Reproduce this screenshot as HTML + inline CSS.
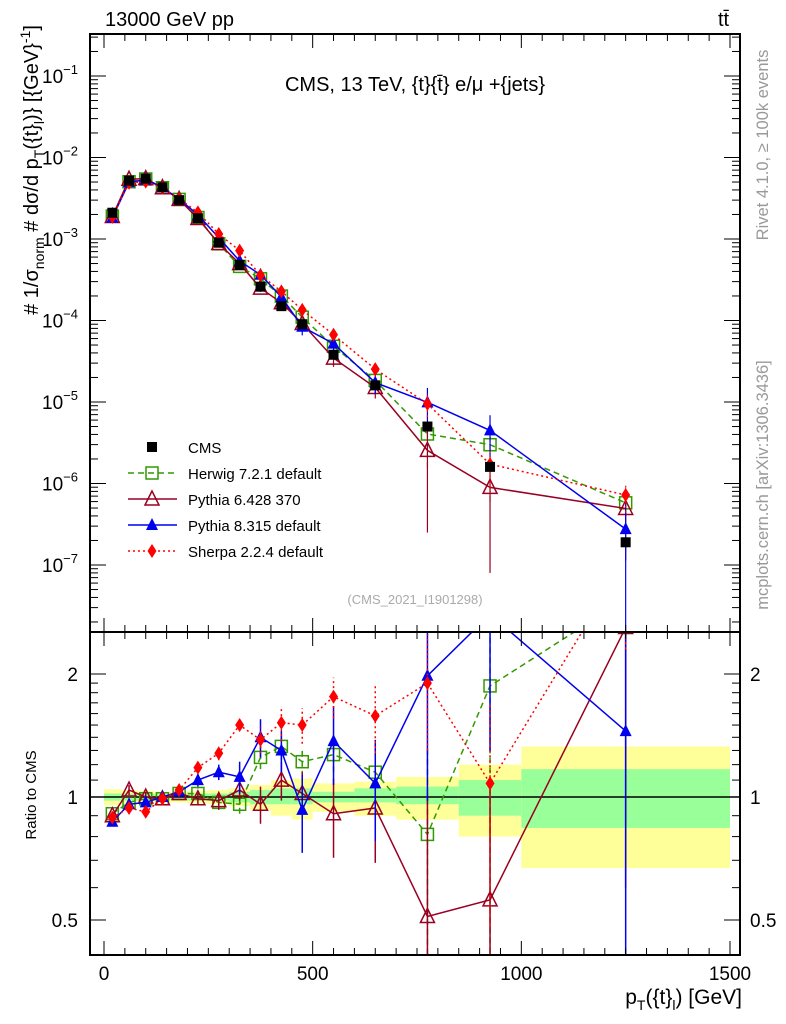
<!DOCTYPE html>
<html><head><meta charset="utf-8">
<style>
html,body{margin:0;padding:0;background:#fff;width:786px;height:1024px;overflow:hidden;position:relative;}
svg{display:block;position:absolute;left:0;top:0;overflow:hidden;font-family:"Liberation Sans",sans-serif;}
</style></head>
<body>
<svg id="chart" width="786" height="1024" viewBox="0 0 786 1024" xmlns="http://www.w3.org/2000/svg">
<g id="bands"></g>
<g id="mainMarks"></g>
<g id="ratioMarks"></g>
<g id="axes"></g>
<text x="105" y="26" font-size="20">13000 GeV pp</text>
<text x="718" y="26" font-size="20">tt̄</text>
<text x="415" y="91" font-size="20" text-anchor="middle">CMS, 13 TeV, {t}{t̄} e/μ +{jets}</text>
<text x="415" y="604" font-size="13" fill="#aaa" text-anchor="middle">(CMS_2021_I1901298)</text>
<text transform="translate(768,145) rotate(-90)" font-size="16.5" fill="#999" text-anchor="middle">Rivet 4.1.0, ≥ 100k events</text>
<text transform="translate(768,485) rotate(-90)" font-size="16.5" fill="#999" text-anchor="middle">mcplots.cern.ch [arXiv:1306.3436]</text>
<text transform="translate(38,170) rotate(-90)" font-size="20" text-anchor="middle"># 1/σ<tspan font-size="14" dy="6">norm</tspan><tspan dy="-6"> # dσ/d p</tspan><tspan font-size="14" dy="6">T</tspan><tspan dy="-6">({t}</tspan><tspan font-size="14" dy="6">l</tspan><tspan dy="-6">)} [{GeV}</tspan><tspan font-size="14" dy="-8">-1</tspan><tspan dy="8">]</tspan></text>
<text transform="translate(36,795) rotate(-90)" font-size="15" text-anchor="middle">Ratio to CMS</text>
<text x="742" y="1004" font-size="21" text-anchor="end">p<tspan font-size="14" dy="6">T</tspan><tspan dy="-6">({t}</tspan><tspan font-size="14" dy="6">l</tspan><tspan dy="-6">) [GeV]</tspan></text>
<g id="legend"></g>
</svg>
<script>
const binLo = [0,40,80,120,160,200,250,300,350,400,450,500,600,700,850,1000];
const binHi = [40,80,120,160,200,250,300,350,400,450,500,600,700,850,1000,1500];
const xCenter = [20,60,100,140,180,225,275,325,375,425,475,550,650,775,925,1250];
const cmsVals = [2.1e-3,5.2e-3,5.5e-3,4.3e-3,3.0e-3,1.8e-3,9.0e-4,4.8e-4,2.6e-4,1.5e-4,9.0e-5,3.8e-5,1.6e-5,5.0e-6,1.6e-6,1.9e-7];
const bandYellowHi = [1.045,1.04,1.035,1.03,1.03,1.035,1.04,1.05,1.07,1.10,1.11,1.08,1.09,1.12,1.20,1.33];
const bandGreenHi = [1.02,1.02,1.02,1.015,1.015,1.02,1.02,1.03,1.04,1.05,1.05,1.03,1.05,1.06,1.10,1.17];
const bandGreenLo = [0.98,0.98,0.98,0.985,0.985,0.98,0.98,0.97,0.96,0.96,0.96,0.97,0.97,0.96,0.90,0.84];
const bandYellowLo = [0.955,0.96,0.965,0.97,0.97,0.965,0.96,0.95,0.93,0.90,0.88,0.92,0.90,0.88,0.80,0.67];
const herwigRatio = [0.91,0.97,0.99,0.99,1.02,1.02,0.97,0.96,1.25,1.33,1.22,1.27,1.15,0.81,1.87,3.05];
const herwigErr = [0.02,0.02,0.02,0.02,0.02,0.03,0.03,0.05,0.08,0.1,0.1,0.12,0.15,0.5,1.5,0.5];
const py6Ratio = [0.90,1.04,1.0,0.99,1.02,0.99,0.98,1.04,0.96,1.1,1.02,0.91,0.94,0.51,0.56,2.6];
const py6Err = [0.02,0.03,0.03,0.02,0.02,0.03,0.05,0.06,0.1,0.12,0.13,0.2,0.25,0.5,0.56,2.0];
const py8Ratio = [0.87,0.96,0.97,1.0,1.03,1.1,1.15,1.12,1.4,1.3,0.93,1.37,1.08,1.98,2.8,1.45];
const py8Err = [0.02,0.02,0.02,0.02,0.03,0.04,0.05,0.1,0.15,0.15,0.2,0.3,0.3,1.0,1.5,1.45];
const sherpaRatio = [0.89,0.94,0.92,0.99,1.04,1.18,1.28,1.5,1.38,1.52,1.5,1.76,1.58,1.9,1.08,3.8];
const sherpaErr = [0.02,0.02,0.02,0.02,0.02,0.03,0.05,0.05,0.1,0.15,0.15,0.2,0.3,0.6,0.6,1.5];
const xTickLabels = [0,500,1000,1500];
const mainTickExp = [-1,-2,-3,-4,-5,-6,-7];
const ratioTickLabels = [0.5,1,2];

const NS="http://www.w3.org/2000/svg";
const L=90,R=740,T=34,MB=632,RB=955;
const xs=v=>104+(v)*(730-104)/1500;
const ym=v=>76-(Math.log10(v)+1)*81.5;
const yr=v=>797-Math.log2(v)*123;
function el(tag,attrs,parent){const e=document.createElementNS(NS,tag);for(const k in attrs)e.setAttribute(k,attrs[k]);parent.appendChild(e);return e;}
const bands=document.getElementById('bands'),mm=document.getElementById('mainMarks'),rm=document.getElementById('ratioMarks'),ax=document.getElementById('axes'),lg=document.getElementById('legend');

const defs=el('defs',{},document.getElementById('chart'));
const c1=el('clipPath',{id:'cm'},defs);el('rect',{x:L,y:T,width:R-L,height:MB-T},c1);
const c2=el('clipPath',{id:'cr'},defs);el('rect',{x:L,y:MB,width:R-L,height:RB-MB},c2);
mm.setAttribute('clip-path','url(#cm)');rm.setAttribute('clip-path','url(#cr)');bands.setAttribute('clip-path','url(#cr)');

for(let i=0;i<binLo.length;i++){
  const x0=xs(binLo[i]),x1=xs(binHi[i]);
  const y1=el('rect',{x:x0,y:yr(bandYellowHi[i]),width:x1-x0,height:yr(bandYellowLo[i])-yr(bandYellowHi[i]),fill:'#ffff99'},bands);
  
  
  const g1=el('rect',{x:x0,y:yr(bandGreenHi[i]),width:x1-x0,height:yr(bandGreenLo[i])-yr(bandGreenHi[i]),fill:'#99ff99'},bands);
  
  
}
const one=el('line',{x1:L,x2:R,y1:yr(1),y2:yr(1),stroke:'#000','stroke-width':1.5},rm);



function marker(g,type,x,y,color){
  let m;
  if(type==='sqfill')m=el('rect',{x:x-5,y:y-5,width:10,height:10,fill:color},g);
  else if(type==='sqopen')m=el('rect',{x:x-6,y:y-6,width:12,height:12,fill:'none',stroke:color,'stroke-width':1.5},g);
  else if(type==='triopen')m=el('polygon',{points:`${x},${y-8} ${x-7},${y+6} ${x+7},${y+6}`,fill:'none',stroke:color,'stroke-width':1.5},g);
  else if(type==='trifill')m=el('polygon',{points:`${x},${y-7} ${x-6},${y+5} ${x+6},${y+5}`,fill:color},g);
  else m=el('polygon',{points:`${x},${y-7} ${x-4.5},${y} ${x},${y+7} ${x+4.5},${y}`,fill:color},g);
  return m;
}
const series=[
 {name:'herwig',label:'Herwig 7.2.1 default',ratio:herwigRatio,err:herwigErr,color:'#339900',dash:'6,4',mk:'sqopen'},
 {name:'pythia6',label:'Pythia 6.428 370',ratio:py6Ratio,err:py6Err,color:'#990022',dash:'',mk:'triopen'},
 {name:'pythia8',label:'Pythia 8.315 default',ratio:py8Ratio,err:py8Err,color:'#0000ee',dash:'',mk:'trifill'},
 {name:'sherpa',label:'Sherpa 2.2.4 default',ratio:sherpaRatio,err:sherpaErr,color:'#ff0000',dash:'2,3',mk:'diamond'}
];
series.forEach(s=>{
  const gm=el('g',{},mm);
  const gr=el('g',{},rm);
  const pm=[],pr=[];
  for(let i=0;i<xCenter.length;i++){
    const v=s.ratio[i]*cmsVals[i],x=xs(xCenter[i]);
    pm.push(x+','+ym(v));pr.push(x+','+yr(s.ratio[i]));
    const lo=Math.max(s.ratio[i]-s.err[i],0.05),hi=s.ratio[i]+s.err[i];
    el('line',{x1:x,x2:x,y1:yr(lo),y2:yr(hi),stroke:s.color,'stroke-width':1.5,'stroke-dasharray':s.dash},gr);
    el('line',{x1:x,x2:x,y1:ym(lo*cmsVals[i]),y2:ym(hi*cmsVals[i]),stroke:s.color,'stroke-width':1.2,'stroke-dasharray':s.dash},gm);
  }
  el('polyline',{points:pm.join(' '),fill:'none',stroke:s.color,'stroke-width':1.5,'stroke-dasharray':s.dash},gm);
  el('polyline',{points:pr.join(' '),fill:'none',stroke:s.color,'stroke-width':1.5,'stroke-dasharray':s.dash},gr);
  for(let i=0;i<xCenter.length;i++){
    const x=xs(xCenter[i]);
    const a=marker(gm,s.mk,x,ym(s.ratio[i]*cmsVals[i]),s.color);
    
    
    const b=marker(gr,s.mk,x,yr(s.ratio[i]),s.color);
    
    
  }
});
const gc=el('g',{},mm);
for(let i=0;i<xCenter.length;i++){
  const p=marker(gc,'sqfill',xs(xCenter[i]),ym(cmsVals[i]),'#000');
  
  
}

el('rect',{x:L,y:T,width:R-L,height:MB-T,fill:'none',stroke:'#000','stroke-width':2},ax);
el('rect',{x:L,y:MB,width:R-L,height:RB-MB,fill:'none',stroke:'#000','stroke-width':2},ax);
for(let v=0;v<=1500;v+=50){
  const x=xs(v),len=v%500===0?14:7;
  el('line',{x1:x,x2:x,y1:T,y2:T+len,stroke:'#000'},ax);
  el('line',{x1:x,x2:x,y1:MB,y2:MB-len,stroke:'#000'},ax);
  el('line',{x1:x,x2:x,y1:MB,y2:MB+len,stroke:'#000'},ax);
  el('line',{x1:x,x2:x,y1:RB,y2:RB-len,stroke:'#000'},ax);
}
xTickLabels.forEach(v=>{
  const t=el('text',{x:xs(v),y:980,'font-size':19,'text-anchor':'middle'},ax);t.textContent=v;
  
  
});
for(let e=-8;e<=0;e++){
  for(let m=1;m<10;m++){
    const v=m*Math.pow(10,e),y=ym(v);if(y<T||y>MB)continue;
    const len=m===1?16:8;
    el('line',{x1:L,x2:L+len,y1:y,y2:y,stroke:'#000'},ax);
    el('line',{x1:R,x2:R-len,y1:y,y2:y,stroke:'#000'},ax);
  }
}
mainTickExp.forEach(e=>{
  const t=el('text',{x:78,y:ym(Math.pow(10,e))+7,'font-size':19,'text-anchor':'end'},ax);
  t.innerHTML='10<tspan font-size="13" dy="-9">'+(e<0?'−':'')+Math.abs(e)+'</tspan>';
  
  
});
[0.5,0.6,0.7,0.8,0.9,1,1.1,1.2,1.3,1.4,1.5,1.6,1.7,1.8,1.9,2].forEach(v=>{
  const y=yr(v),len=(v===0.5||v===1||v===2)?16:8;
  el('line',{x1:L,x2:L+len,y1:y,y2:y,stroke:'#000'},ax);
  el('line',{x1:R,x2:R-len,y1:y,y2:y,stroke:'#000'},ax);
});
ratioTickLabels.forEach(v=>{
  const t=el('text',{x:78,y:yr(v)+7,'font-size':19,'text-anchor':'end'},ax);t.textContent=v;
  
  
  const t2=el('text',{x:750,y:yr(v)+7,'font-size':19},ax);t2.textContent=v;
  
  
});

const rows=[{label:'CMS',color:'#000',mk:'sqfill',dash:null}].concat(series);
rows.forEach((s,i)=>{
  const y=447+i*26;
  const g=el('g',{},lg);
  
  
  if(s.dash!==null)el('line',{x1:128,x2:177,y1:y,y2:y,stroke:s.color,'stroke-width':1.5,'stroke-dasharray':s.dash},g);
  marker(g,s.mk,152,y,s.color);
  const t=el('text',{x:188,y:y+6,'font-size':15},g);t.textContent=s.label;
});
</script>
</body></html>
